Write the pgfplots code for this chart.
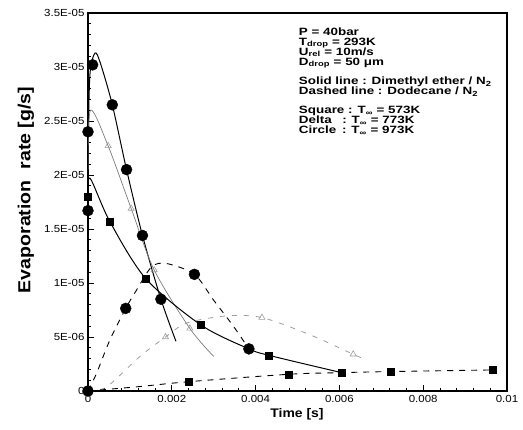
\documentclass[border=0pt]{standalone}
\usepackage{pgfplots}
\pgfplotsset{compat=1.18}
\usepackage{fontspec}
\setmainfont{Liberation Sans}[FakeStretch=1.12]
\newfontfamily\boxfont{Liberation Sans}[FakeStretch=1.27]
\newcommand\tightlines{\lineskiplimit=-100pt\relax\lineskip=0pt\relax}
\definecolor{dgray}{HTML}{7A7A7A}
\definecolor{lgray}{HTML}{9C9C9C}

% curves (no marks)
\pgfplotstableread{
t v
0 1.67e-5
0.00001 2.4e-5
0.00005 2.95e-5
0.00017 3.13e-5
0.0003 3.03e-5
0.00058 2.65e-5
0.00092 2.05e-5
0.0013 1.44e-5
0.00174 8.5e-6
0.0021 4.6e-6
}\dmeC
\pgfplotstableread{
t v
0 2.05e-5
0.00006 2.6e-5
0.00048 2.27e-5
0.00103 1.69e-5
0.00158 1.12e-5
0.00243 5.8e-6
0.003 3.2e-6
}\dmeD
\pgfplotstableread{
t v
0 1.8e-5
0.00005 1.97e-5
0.00052 1.57e-5
0.00138 1.04e-5
0.0027 6.1e-6
0.00384 3.9e-6
0.00432 3.3e-6
0.00605 1.7e-6
}\dmeS
\pgfplotstableread{
t v
0 0
0.0002 1.6e-6
0.00052 4.7e-6
0.0009 7.65e-6
0.00116 9.35e-6
0.00152 1.15e-5
0.00188 1.18e-5
0.00254 1.08e-5
0.003 8.4e-6
0.00347 6.0e-6
0.00384 3.9e-6
}\dodC
\pgfplotstableread{
t v
0 0
0.00045 4e-7
0.00124 3.2e-6
0.00185 5.0e-6
0.00236 6.3e-6
0.0033 6.95e-6
0.00415 6.8e-6
0.0053 5.2e-6
0.00633 3.4e-6
0.00657 3.0e-6
}\dodD
\pgfplotstableread{
t v
0 0
0.0012 4e-7
0.0024 8.6e-7
0.0048 1.55e-6
0.00605 1.7e-6
0.00723 1.8e-6
0.00966 1.95e-6
}\dodS

\begin{document}
\begin{tikzpicture}
\useasboundingbox (0,0) rectangle (523bp,430bp);
\begin{axis}[
    at={(88bp,39bp)}, anchor=south west,
    scale only axis, width=419bp, height=378bp,
    xmin=0, xmax=0.01, ymin=0, ymax=3.5e-5,
    axis line style={line width=1.3pt},
    xtick={0,0.002,0.004,0.006,0.008,0.01},
    xticklabels={0,0.002,0.004,0.006,0.008,0.01},
    ytick={0,5e-6,1e-5,1.5e-5,2e-5,2.5e-5,3e-5,3.5e-5},
    yticklabels={0,5E-06,1E-05,1.5E-05,2E-05,2.5E-05,3E-05,3.5E-05},
    scaled ticks=false,
    minor x tick num=4, minor y tick num=4,
    tick pos=left, tick align=inside,
    major tick length=6bp, minor tick length=3bp,
    tick style={black, line width=0.8pt},
    ticklabel style={font=\fontsize{10.3}{12}\selectfont},
    xticklabel style={yshift=-1bp},
]
% solid: dimethyl ether
\addplot[black, line width=1pt, smooth, tension=0.5] table {\dmeC};
\addplot[dgray, line width=0.7pt, smooth, tension=0.5] table {\dmeD};
\addplot[black, line width=1pt, smooth, tension=0.5] table {\dmeS};
% dashed: dodecane
\addplot[black, line width=0.9pt, dash pattern=on 6bp off 6bp, smooth, tension=0.5] table {\dodC};
\addplot[lgray, line width=0.8pt, dash pattern=on 5bp off 7bp, smooth, tension=0.5] table {\dodD};
\addplot[black, line width=0.9pt, dash pattern=on 6bp off 6bp, smooth, tension=0.5] table {\dodS};
% markers
\addplot[only marks, mark=*, mark size=5.5bp, black] coordinates {
 (0,1.67e-5) (0,2.4e-5) (0.00011,3.02e-5) (0.00058,2.65e-5) (0.00092,2.05e-5)
 (0.0013,1.44e-5) (0.00174,8.5e-6)
 (0,0) (0.0009,7.65e-6) (0.00254,1.08e-5) (0.00384,3.9e-6)};
\addplot[only marks, mark=square*, mark size=3.5bp, black] coordinates {
 (0,1.8e-5) (0.00052,1.57e-5) (0.00138,1.04e-5) (0.0027,6.1e-6) (0.00432,3.3e-6) (0.00605,1.7e-6)
 (0.0024,8.6e-7) (0.0048,1.55e-6) (0.00723,1.8e-6) (0.00966,1.95e-6)};
\addplot[only marks, mark=triangle, mark size=3.5bp, lgray, line width=0.6pt] coordinates {
 (0.00048,2.27e-5) (0.00103,1.69e-5) (0.00158,1.12e-5) (0.00243,5.8e-6)
 (0.00185,5.0e-6) (0.00415,6.8e-6) (0.00633,3.4e-6)};
\node[anchor=north west, align=left, inner sep=0pt,
      font=\boxfont\bfseries\fontsize{10.6}{10}\selectfont\tightlines]
  at (rel axis cs:0.503,0.962) {%
  P = 40bar\\
  T\textsubscript{drop} = 293K\\
  U\textsubscript{rel} = 10m/s\\
  D\textsubscript{drop} = 50 μm\\[9.5bp]
  Solid line : Dimethyl ether / N\textsubscript{2}\\
  Dashed line : Dodecane / N\textsubscript{2}\\[9.5bp]
  Square : T\textsubscript{∞} = 573K\\
  Delta\hspace{1.0em}: T\textsubscript{∞} = 773K\\
  Circle\hspace{0.55em}: T\textsubscript{∞} = 973K};
\end{axis}
\node[font=\bfseries\fontsize{12.5}{14}\selectfont] at (297bp,16bp) {Time [s]};
\node[font=\bfseries\fontsize{17.5}{20}\selectfont, rotate=90] at (26bp,240bp) {Evaporation\ \ rate [g/s]};
\end{tikzpicture}
\end{document}
